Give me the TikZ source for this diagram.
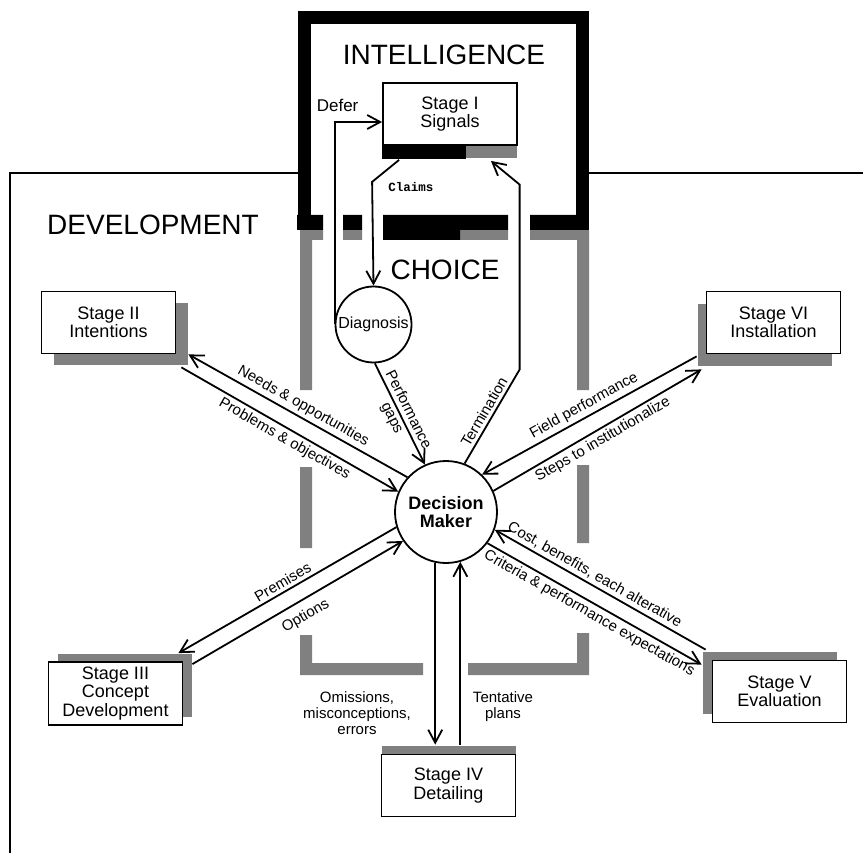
\documentclass[tikz,border=0pt]{standalone}
\usepackage{fontspec}
\setmainfont{Liberation Sans}
\setmonofont{Liberation Mono}
\usetikzlibrary{positioning,shadows,arrows.meta}
\tikzset{
    stage/.style={draw, line width=1.8pt, fill=white, inner sep=0pt,
        minimum width=134pt, minimum height=62pt, align=center,
        font=\fontsize{18}{18.5}\selectfont},
    boxshadow/.style 2 args={drop shadow={shadow xshift=#1, shadow yshift=#2,
        fill=black!50, opacity=1}},
    phase/.style={font=\fontsize{28}{30}\selectfont}
}

\begin{document}
\begin{tikzpicture}[x=1pt, y=-1pt]
\tikzstyle{flow}=[line width=1.8pt, -{Straight Barb[length=13pt,width=14pt]}]
\tikzstyle{flowlabel}=[font=\fontsize{15}{16}\selectfont, sloped, inner sep=3pt]
\tikzstyle{wall}=[fill=black!50]

\useasboundingbox (0,0) rectangle (863,853);

\draw[line width=1.5pt] (10,870) -- (10,173) -- (300,173) (585,173) -- (880,173);

\fill[wall] (300,230) rectangle (312,390) (300,467) rectangle (312,548)
    (300,635) rectangle (312,675) (300,663) rectangle (423,675)
    (468,663) rectangle (589,675) (577,633) rectangle (589,675)
    (577,465) rectangle (589,543) (577,230) rectangle (589,390)
    (300,230) rectangle (323,240) (343,230) rectangle (362,240)
    (383,230) rectangle (508,240) (530,230) rectangle (589,240);

\draw[line width=13pt] (304,230) -- (304,17.5) -- (582,17.5) -- (582,230);
\fill (297,215) rectangle (323,230) (343,215) rectangle (362,230)
    (383,215) rectangle (508,230) (383,230) rectangle (460,240)
    (530,215) rectangle (588.5,230);

\node[phase] (intel) at (444,55) {INTELLIGENCE};
\node[phase] (devel) at (153,225) {DEVELOPMENT};
\node[phase] (choice) at (445,270) {CHOICE};

\node[stage, boxshadow={0pt}{-13pt}] (signals) at (450,114) {Stage I\\Signals};
\fill (signals.south west) rectangle ([shift={(84,13)}]signals.south west);
\node[stage, boxshadow={12pt}{-12pt}] (intentions) at (108.5,322.5) {Stage II\\Intentions};
\node[stage, boxshadow={9pt}{8pt}, minimum height=63pt] (concept) at (115.5,693.5)
    {Stage III\\Concept\\Development};
\node[stage, boxshadow={0pt}{9pt}] (detailing) at (448.5,785.5) {Stage IV\\Detailing};
\node[stage, boxshadow={-10pt}{9pt}] (evaluation) at (779.5,691.5) {Stage V\\Evaluation};
\node[stage, boxshadow={-9pt}{-13pt}] (installation) at (773.5,322.5) {Stage VI\\Installation};

\node[circle, draw, line width=1.8pt, fill=white, minimum size=102pt, inner sep=0pt,
    align=center, font=\bfseries\fontsize{18}{18}\selectfont] (maker) at (446,512)
    {Decision\\Maker};
\node[circle, draw, line width=1.8pt, fill=white, minimum size=76pt, inner sep=0pt,
    font=\fontsize{16}{16}\selectfont] (diagnosis) at (373.5,324.5) {Diagnosis};

\draw[flow] ([shift={(17,14)}]signals.south west) -- ++(-27,22) -- (diagnosis.north);
\node[font=\ttfamily\bfseries\fontsize{12.5}{12.5}\selectfont] (claims) at (411,187) {Claims};
\draw[flow] (diagnosis.west) |- ([yshift=-8pt]signals.west)
    node[pos=0.5, above=6pt, xshift=3pt, font=\fontsize{17}{17}\selectfont] {Defer};
\draw[flow] (maker.69) -- node[flowlabel, above] {Termination} ++(55,-94)
    -- ++(0,-185) -- ([shift={(-27,15)}]signals.south east);
\draw[flow] (diagnosis.272) -- node[flowlabel, align=center,
    font=\fontsize{15}{18}\selectfont] {Performance\\gaps} (maker.114);

\draw[flow] (maker.138) -- node[flowlabel, above] {Needs \& opportunities}
    ([shift={(12,0)}]intentions.south east);
\draw[flow] ([shift={(5,13)}]intentions.south east) -- node[flowlabel, below]
    {Problems \& objectives} (maker.157);

\draw[flow] (maker.197) -- node[flowlabel, above] {Premises}
    ([shift={(-5,-8)}]concept.north east);
\draw[flow] ([shift={(9,3)}]concept.north east) -- node[flowlabel, below=5pt]
    {Options} (maker.214);

\draw[flow, shorten >=9pt] (maker.258) -- (maker.258 |- detailing.north);
\draw[flow, shorten <=9pt] (maker.286 |- detailing.north) -- (maker.286);
\node[font=\fontsize{15}{16}\selectfont, align=center] (omissions) at (357,713)
    {Omissions,\\misconceptions,\\errors};
\node[font=\fontsize{15}{16}\selectfont, align=center] (tentative) at (503,707)
    {Tentative\\plans};

\draw[flow] ([shift={(-6,-10)}]evaluation.north west) -- node[flowlabel, above, pos=0.55]
    {Cost, benefits, each alterative} (maker.340);
\draw[flow] (maker.323) -- node[flowlabel, below]
    {Criteria \& performance expectations} ([shift={(-10,5)}]evaluation.north west);

\draw[flow] ([shift={(-9,2)}]installation.south west) -- node[flowlabel, above]
    {Field performance} (maker.46);
\draw[flow] (maker.24) -- node[flowlabel, below] {Steps to institutionalize}
    ([shift={(-4,15)}]installation.south west);
\end{tikzpicture}
\end{document}
